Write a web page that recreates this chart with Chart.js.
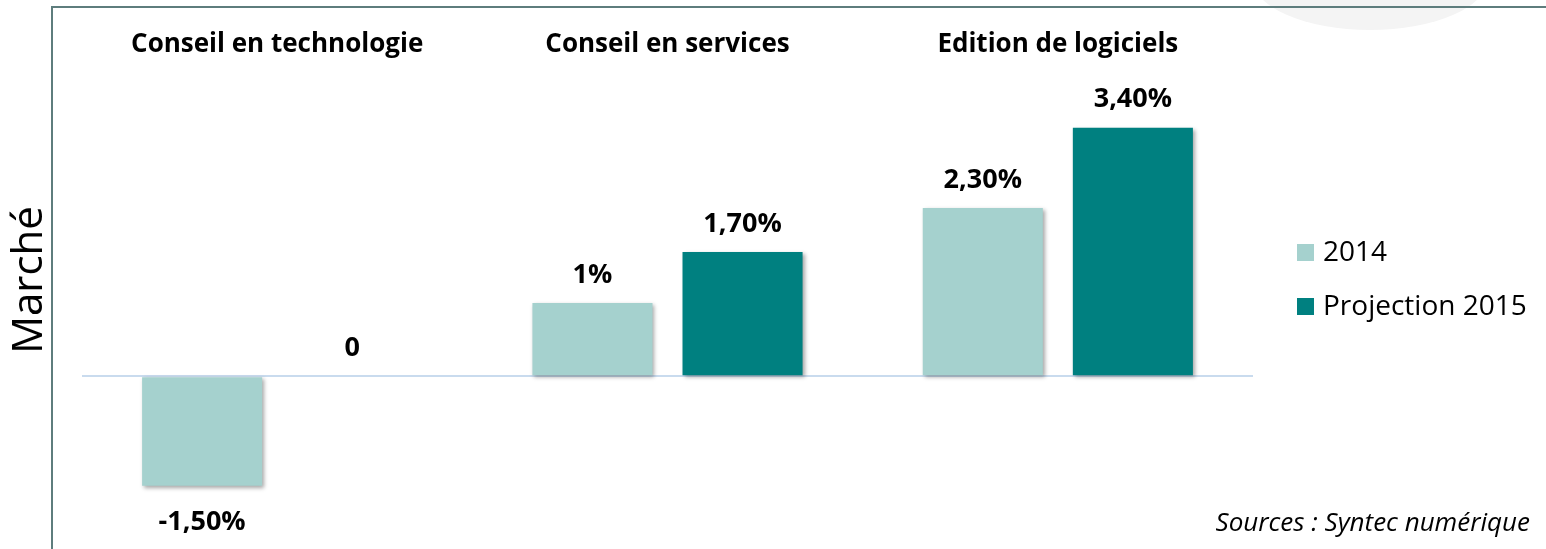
<!DOCTYPE html>
<html>
<head>
<meta charset="utf-8">
<script src="https://cdn.jsdelivr.net/npm/chart.js@4.4.1/dist/chart.umd.min.js"></script>
<style>
  html, body { margin: 0; padding: 0; background: #ffffff; }
  #wrap { width: 1546px; height: 549px; position: relative; }
</style>
</head>
<body>
<div id="wrap"><canvas id="chart1"></canvas></div>
<script>
// data
var categories = ["Conseil en technologie", "Conseil en services", "Edition de logiciels"];
var values2014 = [-1.5, 1.0, 2.3];
var valuesProj2015 = [0, 1.7, 3.4];
var labels2014 = ["-1,50%", "1%", "2,30%"];
var labelsProj2015 = ["0", "1,70%", "3,40%"];
var seriesNames = ["2014", "Projection 2015"];

var FONT = "'Open Sans', Lato, sans-serif";
var lightTeal = "#a5d1ce";
var darkTeal = "#008080";

// frame, titles, legend and value labels
var decor = {
    id: "decor",
    beforeDraw: function(chart){
        var ctx = chart.ctx;
        ctx.save();
        // faint ellipse top right
        ctx.fillStyle = "#f4f4f4";
        ctx.beginPath();
        ctx.ellipse(1370, -22, 118, 52, 0, 0, Math.PI * 2);
        ctx.fill();
        // frame lines
        ctx.strokeStyle = "#5e7d7d";
        ctx.lineWidth = 2;
        ctx.beginPath();
        ctx.moveTo(52, 549);
        ctx.lineTo(52, 7);
        ctx.lineTo(1546, 7);
        ctx.stroke();
        ctx.restore();
    },
    beforeDatasetsDraw: function(chart){
        var ctx = chart.ctx;
        ctx.save();
        ctx.shadowColor = "rgba(0,0,0,0.35)";
        ctx.shadowBlur = 4;
        ctx.shadowOffsetX = 2;
        ctx.shadowOffsetY = 2;
    },
    afterDatasetsDraw: function(chart){
        var ctx = chart.ctx;
        ctx.restore();
        ctx.save();
        var x = chart.scales.x;
        // category titles
        ctx.fillStyle = "#000";
        ctx.font = "bold 26px " + FONT;
        ctx.textAlign = "center";
        ctx.textBaseline = "middle";
        categories.forEach(function(c, i){
            ctx.fillText(c, x.getPixelForValue(i), 45);
        });
        // value labels
        ctx.font = "bold 27px " + FONT;
        var lbls = [labels2014, labelsProj2015];
        chart.data.datasets.forEach(function(ds, di){
            var meta = chart.getDatasetMeta(di);
            meta.data.forEach(function(bar, i){
                var v = ds.data[i];
                var y = v < 0 ? bar.y + 36 : bar.y - 28;
                ctx.fillText(lbls[di][i], bar.x, y);
            });
        });
        // y title
        ctx.save();
        ctx.translate(30, 280);
        ctx.rotate(-Math.PI / 2);
        ctx.font = "42px " + FONT;
        ctx.fillText("Marché", 0, 0);
        ctx.restore();
        // legend
        ctx.textAlign = "left";
        ctx.font = "28px " + FONT;
        var colors = [lightTeal, darkTeal];
        var ly = [253, 307];
        seriesNames.forEach(function(n, i){
            ctx.fillStyle = colors[i];
            ctx.fillRect(1297, ly[i] - 9, 17, 17);
            ctx.fillStyle = "#000";
            ctx.fillText(n, 1323, ly[i]);
        });
        // source
        ctx.textAlign = "right";
        ctx.font = "italic 26px " + FONT;
        ctx.fillText("Sources : Syntec numérique", 1530, 524);
        ctx.restore();
    }
};

var ctx = document.getElementById('chart1');
var myChart = new Chart(ctx, {
    type: "bar",
    data: {
        labels: categories,
        datasets: [
            { label: seriesNames[0], data: values2014, backgroundColor: lightTeal },
            { label: seriesNames[1], data: valuesProj2015, backgroundColor: darkTeal }
        ]
    },
    options: {
        responsive: true,
        maintainAspectRatio: false,
        animation: false,
        categoryPercentage: 0.769,
        barPercentage: 0.8,
        layout: { padding: { left: 82, right: 293, top: 40, bottom: 12 } },
        plugins: { legend: { display: false }, tooltip: { enabled: false } },
        scales: {
            x: { display: false, grid: { display: false } },
            y: {
                min: -2.2,
                max: 4.6,
                ticks: { display: false },
                border: { display: false },
                grid: {
                    drawTicks: false,
                    lineWidth: 2,
                    color: function(c){ return c.tick && c.tick.value === 0 ? "#c9dbee" : "rgba(0,0,0,0)"; }
                }
            }
        }
    },
    plugins: [decor]
});
</script>
</body>
</html>
